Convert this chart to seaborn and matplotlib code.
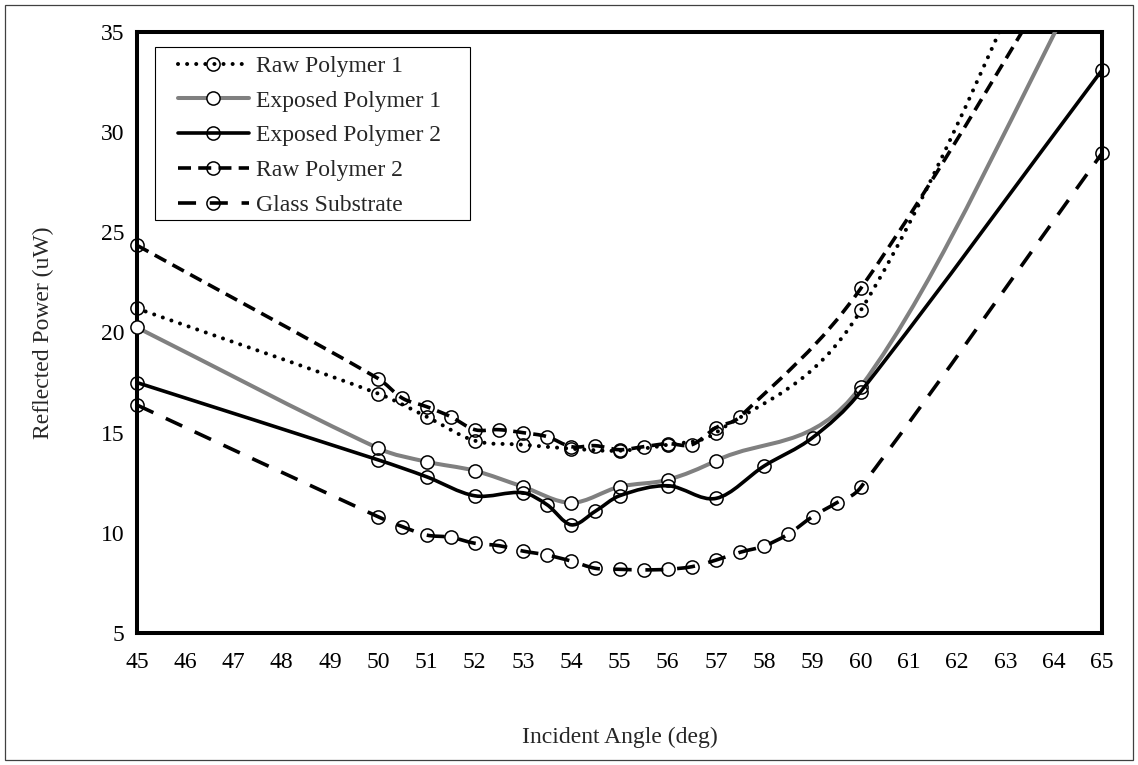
import numpy as np
import matplotlib
matplotlib.use("Agg")
import matplotlib.pyplot as plt
from matplotlib.path import Path
from matplotlib.patches import PathPatch, Rectangle
from matplotlib.lines import Line2D
import seaborn as sns

# =============================================================================
# DATA
# =============================================================================

ANGLE_RAW1 = [45, 50, 51, 52, 53, 54, 55, 56, 57, 60, 65]
POWER_RAW1 = [21.2, 16.95, 15.8, 14.6, 14.4, 14.2, 14.1, 14.4, 15.0, 21.1, 46.3]

ANGLE_EXP1 = [45, 50, 51, 52, 53, 54, 55, 56, 57, 60, 65]
POWER_EXP1 = [20.25, 14.22, 13.55, 13.1, 12.3, 11.5, 12.3, 12.65, 13.6, 17.3, 39.5]

ANGLE_EXP2 = [45, 50, 51, 52, 53, 53.5, 54, 54.5, 55, 56, 57, 58, 59, 60, 65]
POWER_EXP2 = [17.5, 13.64, 12.8, 11.85, 12.0, 11.4, 10.4, 11.08, 11.85, 12.35,
              11.72, 13.34, 14.75, 17.05, 33.1]

ANGLE_RAW2 = [45, 50, 50.5, 51, 51.5, 52, 52.5, 53, 53.5, 54, 54.5, 55, 55.5,
              56, 56.5, 57, 57.5, 60, 65]
POWER_RAW2 = [24.35, 17.7, 16.72, 16.3, 15.8, 15.15, 15.15, 15.0, 14.8, 14.3,
              14.35, 14.15, 14.3, 14.45, 14.4, 15.25, 15.8, 22.2, 41.6]

ANGLE_GLASS = [45, 50, 50.5, 51, 51.5, 52, 52.5, 53, 53.5, 54, 54.5, 55, 55.5,
               56, 56.5, 57, 57.5, 58, 58.5, 59, 59.5, 60, 65]
POWER_GLASS = [16.38, 10.8, 10.31, 9.89, 9.78, 9.48, 9.36, 9.09, 8.89, 8.59,
               8.23, 8.18, 8.15, 8.18, 8.31, 8.64, 9.03, 9.35, 9.94, 10.81,
               11.5, 12.27, 28.95]

LABELS = ["Raw Polymer 1", "Exposed Polymer 1", "Exposed Polymer 2",
          "Raw Polymer 2", "Glass Substrate"]
ANGLES = [ANGLE_RAW1, ANGLE_EXP1, ANGLE_EXP2, ANGLE_RAW2, ANGLE_GLASS]
POWERS = [POWER_RAW1, POWER_EXP1, POWER_EXP2, POWER_RAW2, POWER_GLASS]

X_TICKS = list(range(45, 66))
Y_TICKS = [5, 10, 15, 20, 25, 30, 35]

# =============================================================================
# STYLE
# =============================================================================

FS = 17
STYLES = [
    dict(color="black", lw=2.9, ls=(0, (0.01, 2.25)), cap="round", face="none"),
    dict(color="#808080", lw=2.9, ls="solid", cap="butt", face="white"),
    dict(color="black", lw=2.6, ls="solid", cap="butt", face="none"),
    dict(color="black", lw=2.6, ls=(0, (3.6, 2.0)), cap="butt", face="none"),
    dict(color="black", lw=2.6, ls=(0, (5.0, 3.8)), cap="butt", face="none"),
]


def smooth_path(xs, ys):
    """Bezier path through the points (Excel-like smoothed line)."""
    xs = np.asarray(xs, float)
    ys = np.asarray(ys, float)
    slope = np.empty(len(xs))
    slope[0] = (ys[1] - ys[0]) / (xs[1] - xs[0])
    slope[-1] = (ys[-1] - ys[-2]) / (xs[-1] - xs[-2])
    slope[1:-1] = (ys[2:] - ys[:-2]) / (xs[2:] - xs[:-2])
    verts = [(xs[0], ys[0])]
    codes = [Path.MOVETO]
    for i in range(len(xs) - 1):
        d = (xs[i + 1] - xs[i]) / 3.0
        verts += [(xs[i] + d, ys[i] + slope[i] * d),
                  (xs[i + 1] - d, ys[i + 1] - slope[i + 1] * d),
                  (xs[i + 1], ys[i + 1])]
        codes += [Path.CURVE4] * 3
    return Path(verts, codes)


sns.set_theme(style="white")
plt.rcParams["font.family"] = ["Liberation Serif", "DejaVu Serif"]

fig = plt.figure(figsize=(11.38, 7.65), dpi=100)
ax = fig.add_axes([137 / 1138, 1 - 633 / 765, 965 / 1138, 601 / 765])

handles = []
for k, (label, xs, ys, st) in enumerate(zip(LABELS, ANGLES, POWERS, STYLES)):
    patch = PathPatch(smooth_path(xs, ys), facecolor="none",
                      edgecolor=st["color"], lw=st["lw"], linestyle=st["ls"],
                      capstyle=st["cap"], zorder=3 + 2 * k)
    ax.add_patch(patch)
    sns.lineplot(x=xs, y=ys, ax=ax, linestyle="", marker="o", markersize=9.5,
                 markerfacecolor=st["face"], markeredgecolor="black",
                 markeredgewidth=1.1, color="black", clip_on=False,
                 zorder=4 + 2 * k, legend=False)
    handles.append(Line2D([], [], color=st["color"], lw=st["lw"],
                          linestyle=st["ls"], dash_capstyle=st["cap"],
                          marker="o", markersize=9.5,
                          markerfacecolor=st["face"], markeredgecolor="black",
                          markeredgewidth=1.1))

ax.set_xlim(45, 65)
ax.set_ylim(5, 35)
ax.set_xticks(X_TICKS)
ax.set_yticks(Y_TICKS)
ax.tick_params(axis="both", direction="out", color="#808080", width=1,
               labelsize=FS, labelcolor="black")
ax.tick_params(axis="x", length=4, pad=10)
ax.tick_params(axis="y", length=5, pad=4)
for side in ["left", "right", "top", "bottom"]:
    ax.spines[side].set_visible(True)
    ax.spines[side].set_color("black")
    ax.spines[side].set_linewidth(2.9)
ax.grid(False)

ax.set_xlabel("Incident Angle (deg)", fontsize=FS, labelpad=38.5)
ax.set_ylabel("Reflected Power (uW)", fontsize=FS, labelpad=34)

# legend box drawn by hand so the handle inset matches the reference
ax.add_patch(Rectangle((0.0187, 0.6872), 0.3264, 0.2879,
                       transform=ax.transAxes, facecolor="white",
                       edgecolor="black", lw=0.8, zorder=20, clip_on=False))
leg = ax.legend(handles, LABELS, loc="upper left",
                bbox_to_anchor=(0.034, 0.975), frameon=False,
                borderaxespad=0, handlelength=3.0, handletextpad=0.3,
                labelspacing=0.56, borderpad=0.35, fontsize=FS, numpoints=1)
leg.set_zorder(30)

fig.patches.append(Rectangle((5 / 1138, 5 / 765), 1128 / 1138, 755 / 765,
                             transform=fig.transFigure, fill=False,
                             edgecolor="#404040", lw=0.9))

fig.savefig("out.png", dpi=100)
